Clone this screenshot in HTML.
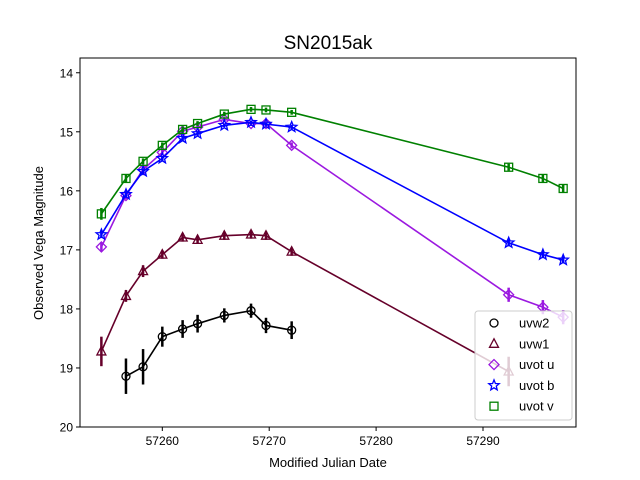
<!DOCTYPE html>
<html><head><meta charset="utf-8"><style>
body{margin:0;background:#fff}
svg{display:block;font-family:"Liberation Sans","DejaVu Sans",sans-serif}
</style></head><body>
<svg id="chart" width="640" height="480">
<rect width="640" height="480" fill="#fff"/>
<text x="328" y="49" font-size="19" text-anchor="middle">SN2015ak</text>
<text x="328" y="467" font-size="13" text-anchor="middle">Modified Julian Date</text>
<text x="0" y="0" font-size="13" text-anchor="middle" transform="translate(43,243) rotate(-90)">Observed Vega Magnitude</text>
<g id="plot"></g>
<g id="axes"></g>
<g id="legend"></g>
</svg>
<script>
const mjd = [57254.3,57256.6,57258.2,57260.0,57261.9,57263.3,57265.8,57268.3,57269.7,57272.1,57292.4,57295.6,57297.5];
const uvw2Mjd = [57256.6,57258.2,57260.0,57261.9,57263.3,57265.8,57268.3,57269.7,57272.1];
const uvw2Mag = [19.14,18.98,18.47,18.34,18.25,18.11,18.03,18.28,18.36];
const uvw2Err = [0.3,0.3,0.17,0.15,0.15,0.12,0.12,0.13,0.15];
const uvw1Mjd = [57254.3,57256.6,57258.2,57260.0,57261.9,57263.3,57265.8,57268.3,57269.7,57272.1,57292.4];
const uvw1Mag = [18.72,17.78,17.36,17.08,16.79,16.83,16.76,16.74,16.76,17.03,19.06];
const uvw1Err = [0.25,0.1,0.1,0.07,0.07,0.07,0.07,0.07,0.07,0.07,0.25];
const uMag = [16.95,16.08,15.64,15.35,14.99,14.92,14.79,14.86,14.86,15.23,17.76,17.97,18.14];
const uErr = [0.08,0.06,0.05,0.05,0.04,0.04,0.04,0.04,0.04,0.05,0.12,0.12,0.12];
const bMag = [16.74,16.06,15.67,15.45,15.11,15.03,14.89,14.84,14.87,14.92,16.88,17.08,17.17];
const bErr = [0.06,0.05,0.04,0.04,0.04,0.04,0.03,0.03,0.03,0.04,0.06,0.06,0.06];
const vMag = [16.39,15.79,15.50,15.23,14.96,14.86,14.70,14.62,14.63,14.67,15.60,15.79,15.96];
const vErr = [0.1,0.07,0.05,0.05,0.05,0.04,0.04,0.04,0.04,0.04,0.06,0.06,0.07];
const xTicks = [57260,57270,57280,57290];
const yTicks = [14,15,16,17,18,19,20];

const L=80,R=576,T=58,B=427;
const x0=57252.3,x1=57298.7,y0=13.75,y1=20;
const X=v=>L+(v-x0)/(x1-x0)*(R-L);
const Y=v=>T+(v-y0)/(y1-y0)*(B-T);
const NS="http://www.w3.org/2000/svg";
function mk(tag,attrs,parent){const e=document.createElementNS(NS,tag);for(const k in attrs)e.setAttribute(k,attrs[k]);parent.appendChild(e);return e;}
const plot=document.getElementById('plot'),axes=document.getElementById('axes'),leg=document.getElementById('legend');

function marker(kind,cx,cy,col,g){
  let e;
  if(kind==='o')e=mk('circle',{cx:cx,cy:cy,r:4,fill:'none',stroke:col,'stroke-width':1.3},g);
  else if(kind==='^')e=mk('polygon',{points:`${cx},${cy-5} ${cx-4.5},${cy+3.5} ${cx+4.5},${cy+3.5}`,fill:'none',stroke:col,'stroke-width':1.3},g);
  else if(kind==='D')e=mk('polygon',{points:`${cx},${cy-5} ${cx+5},${cy} ${cx},${cy+5} ${cx-5},${cy}`,fill:'none',stroke:col,'stroke-width':1.3},g);
  else if(kind==='*'){let p=[];for(let i=0;i<10;i++){const r=i%2?2.4:5.5,a=-Math.PI/2+i*Math.PI/5;p.push((cx+r*Math.cos(a)).toFixed(1)+','+(cy+r*Math.sin(a)).toFixed(1));}e=mk('polygon',{points:p.join(' '),fill:'none',stroke:col,'stroke-width':1.3},g);}
  else e=mk('rect',{x:cx-4,y:cy-4,width:8,height:8,fill:'none',stroke:col,'stroke-width':1.3},g);
  return e;
}
const series=[
 {name:'uvw2',xs:uvw2Mjd,ys:uvw2Mag,es:uvw2Err,col:'#000000',m:'o'},
 {name:'uvw1',xs:uvw1Mjd,ys:uvw1Mag,es:uvw1Err,col:'#66002a',m:'^'},
 {name:'uvot u',xs:mjd,ys:uMag,es:uErr,col:'#9b19e0',m:'D'},
 {name:'uvot b',xs:mjd,ys:bMag,es:bErr,col:'#0000ff',m:'*'},
 {name:'uvot v',xs:mjd,ys:vMag,es:vErr,col:'#008000',m:'s'}
];
series.forEach(s=>{
  const g=mk('g',{},plot);
  
  
  const line=mk('polyline',{points:s.xs.map((v,i)=>X(v)+','+Y(s.ys[i])).join(' '),fill:'none',stroke:s.col,'stroke-width':1.6},g);
  
  
  s.xs.forEach((v,i)=>{
    const eb=mk('line',{x1:X(v),x2:X(v),y1:Y(s.ys[i]-s.es[i]),y2:Y(s.ys[i]+s.es[i]),stroke:s.col,'stroke-width':2.5},g);
    
    
    const p=marker(s.m,X(v),Y(s.ys[i]),s.col,g);
    
    
  });
});
const frame=mk('rect',{x:L,y:T,width:R-L,height:B-T,fill:'none',stroke:'#000','stroke-width':1},axes);


xTicks.forEach(t=>{
  mk('line',{x1:X(t),x2:X(t),y1:B,y2:B+4,stroke:'#000'},axes);
  const tx=mk('text',{x:X(t),y:B+18,'font-size':12,'text-anchor':'middle'},axes);tx.textContent=t;
  
  
});
yTicks.forEach(t=>{
  mk('line',{x1:L-4,x2:L,y1:Y(t),y2:Y(t),stroke:'#000'},axes);
  const tx=mk('text',{x:L-7,y:Y(t)+4.5,'font-size':12,'text-anchor':'end'},axes);tx.textContent=t;
  
  
});
const box=mk('rect',{x:475,y:311,width:97,height:109,rx:3,fill:'#fff','fill-opacity':0.8,stroke:'#ccc'},leg);


series.forEach((s,i)=>{
  const y=323+i*20.8;
  const g=mk('g',{},leg);
  
  
  marker(s.m,494,y,s.col,g);
  const t=mk('text',{x:519,y:y+4.5,'font-size':13},g);t.textContent=s.name;
});
</script>
</body></html>
